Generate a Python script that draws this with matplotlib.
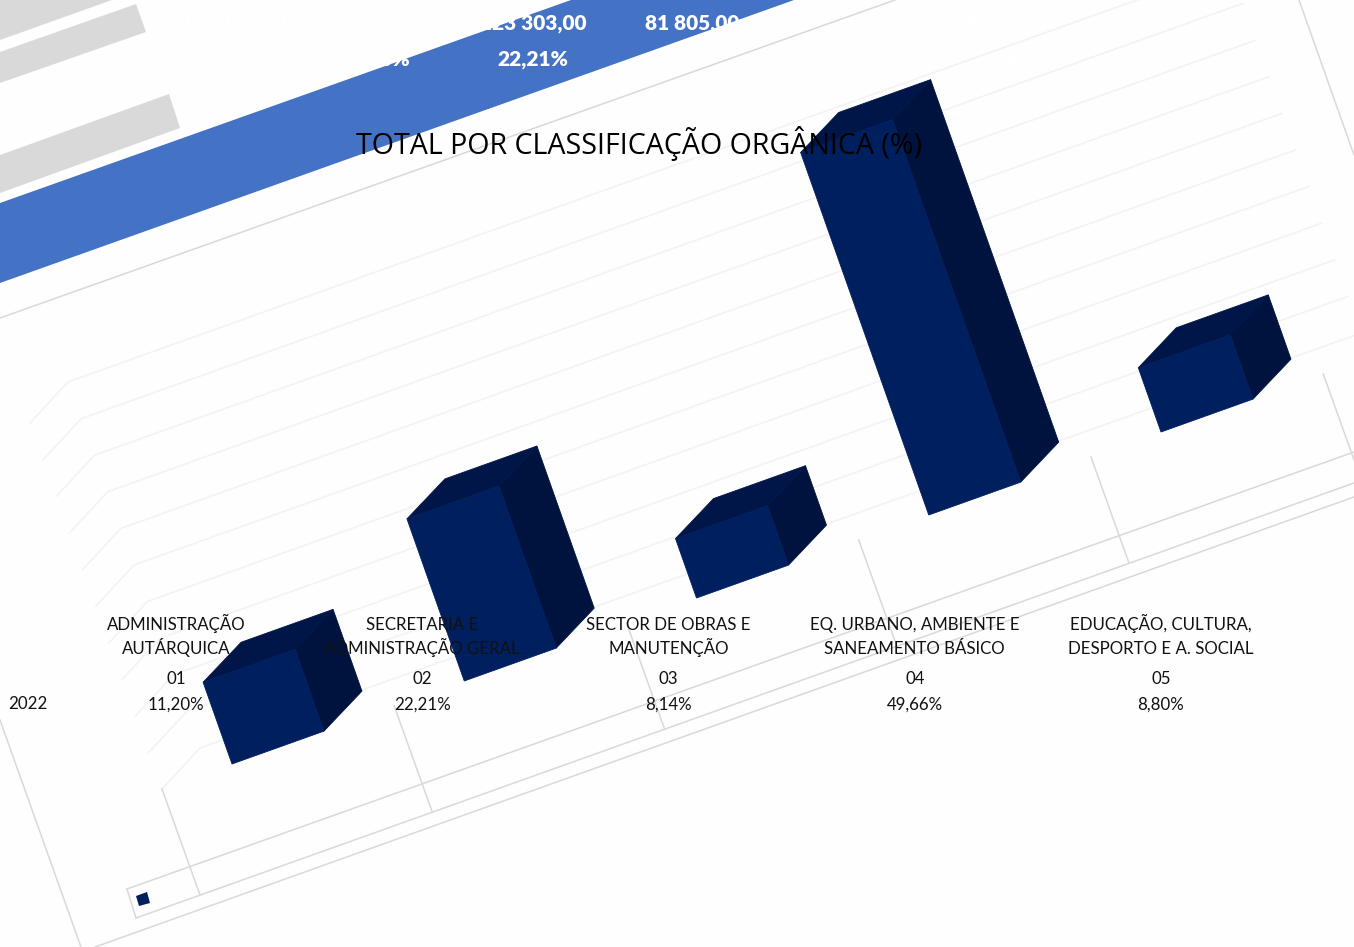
# Skewed 3D column chart - total by organic classification (%)
# Everything is drawn on one pixel-sized axes, bars go through project()

import numpy as np
import matplotlib
matplotlib.use("Agg")
import matplotlib.pyplot as plt
from matplotlib.patches import Polygon

categories = [
    "ADMINISTRAÇÃO\nAUTÁRQUICA",
    "SECRETARIA E\nADMINISTRAÇÃO GERAL",
    "SECTOR DE OBRAS E\nMANUTENÇÃO",
    "EQ. URBANO, AMBIENTE E\nSANEAMENTO BÁSICO",
    "EDUCAÇÃO, CULTURA,\nDESPORTO E A. SOCIAL",
]
codes = ["01", "02", "03", "04", "05"]
values = [11.20, 22.21, 8.14, 49.66, 8.80]
value_labels = ["11,20%", "22,21%", "8,14%", "49,66%", "8,80%"]
year = "2022"
grid_levels = [0, 5, 10, 15, 20, 25, 30, 35, 40, 45, 50]
title = "TOTAL POR CLASSIFICAÇÃO ORGÂNICA (%)"

# leftover table header behind the chart, white on white except over the band
header_row1 = ["Total Geral", "112 580,00", "123 303,00", "81 805,00", "275 859,00", "88 449,00", "1 005 500,00"]
header_row2 = ["% Total", "11,20%", "22,21%", "8,14%", "49,66%", "8,80%", "100%"]
header_x = [234, 375, 533, 692, 855, 1012, 1180]
header_x2 = [250, 374, 533, 692, 852, 1013, 1178]

W, H = 1354, 947
NAVY = "#001f5f"
NAVY_SIDE = "#00133f"
NAVY_TOP = "#001648"
LINE = "#d9d9d9"
GRID = "#f4f2f2"

# pixel vectors of the sheared chart space
ORIGIN = np.array([232.0, 764.0])
CAT_STEP = np.array([232.25, -83.0])
PCT_STEP = np.array([-2.58, -7.3])
GRID_STEP = np.array([-2.64, -7.32])
DEPTH = np.array([38.0, -40.0])
CORNER = np.array([162.0, 789.0])
BAR_W = 0.396


def project(cat, val):
    # chart coords (category, percent) -> pixel
    return ORIGIN + cat * CAT_STEP + val * PCT_STEP


def draw_bar(ax, i, v):
    a = project(i, 0)
    b = project(i + BAR_W, 0)
    c = project(i + BAR_W, v)
    d = project(i, v)
    # thin same-colour edges so no light seam shows between the faces
    ax.add_patch(Polygon([b, b + DEPTH, c + DEPTH, c], fc=NAVY_SIDE, ec=NAVY_SIDE, lw=0.6, zorder=5))
    ax.add_patch(Polygon([d, c, c + DEPTH, d + DEPTH], fc=NAVY_TOP, ec=NAVY_TOP, lw=0.6, zorder=5))
    ax.add_patch(Polygon([a, b, c, d], fc=NAVY, ec=NAVY, lw=0.6, zorder=6))


fig = plt.figure(figsize=(W / 100, H / 100), dpi=100, facecolor="#fefefe")
ax = fig.add_axes([0, 0, 1, 1])
ax.set_xlim(0, W)
ax.set_ylim(H, 0)
ax.axis("off")

# blue band and grey strips left over from the sheet
ax.add_patch(Polygon([(0, 203), (571, 0), (794, 0), (0, 283)], fc="#4472c4", ec="none", zorder=1))
for strip in ([(0, 0), (112, 0), (0, 40)],
              [(0, 52), (136, 4), (146, 32), (0, 83)],
              [(0, 155), (169, 94), (180, 128), (0, 193)]):
    ax.add_patch(Polygon(strip, fc="#d9d9d9", ec="none", zorder=1))

# outer frame
ax.plot([0, 895], [318, 0], color=LINE, lw=1.1, zorder=2)
ax.plot([0, 81], [720, 947], color=LINE, lw=1.1, zorder=2)
ax.plot([1299, 1354], [0, 155], color=LINE, lw=1.1, zorder=2)
ax.plot([95, 1354], [947, 497], color=LINE, lw=1.1, zorder=2)

# gridlines: short floor piece then the long run on the back wall
for g in grid_levels:
    p0 = CORNER + g * GRID_STEP
    p1 = p0 + DEPTH + np.array([0.0, -1.0])
    p2 = p1 + 5 * CAT_STEP
    ax.plot([p0[0], p1[0], p2[0]], [p0[1], p1[1], p2[1]], color=GRID, lw=1.2, zorder=2)

# data table lines
for k in range(6):
    top = CORNER + k * CAT_STEP
    ax.plot([top[0], top[0] + 38], [top[1], top[1] + 106], color=LINE, lw=1.1, zorder=3)
ax.plot([127, 1354], [889, 452], color=LINE, lw=1.1, zorder=3)
ax.plot([136, 1354], [918, 483], color=LINE, lw=1.1, zorder=3)
ax.plot([127, 136], [889, 918], color=LINE, lw=1.1, zorder=3)

# legend key
ax.add_patch(Polygon([(136, 896), (147, 892), (150, 903), (139, 906)], fc=NAVY, ec="none", zorder=4))

for i, v in enumerate(values):
    draw_bar(ax, i, v)

# labels are not sheared
label_style = dict(ha="center", va="baseline", fontsize=12.2, family="Lato", color="#111111", zorder=8)
for i in range(len(values)):
    cx = 176 + i * 246.25
    l1, l2 = categories[i].split("\n")
    ax.text(cx, 630, l1, **label_style)
    ax.text(cx, 654, l2, **label_style)
    ax.text(cx, 684, codes[i], **label_style)
    ax.text(cx, 710, value_labels[i], **label_style)
ax.text(28, 709, year, **label_style)

ax.text(639, 153.5, title, ha="center", va="baseline", fontsize=20.65, family="Open Sans",
        color="#000000", zorder=8)

for x, a in zip(header_x, header_row1):
    ax.text(x, 29.5, a, ha="center", va="baseline", fontsize=15, family="Lato", weight="heavy",
            color="white", zorder=1.5)
for x, b in zip(header_x2, header_row2):
    ax.text(x, 65.5, b, ha="center", va="baseline", fontsize=15, family="Lato", weight="heavy",
            color="white", zorder=1.5)

fig.savefig("out.png", dpi=100, facecolor=fig.get_facecolor())
plt.close(fig)
